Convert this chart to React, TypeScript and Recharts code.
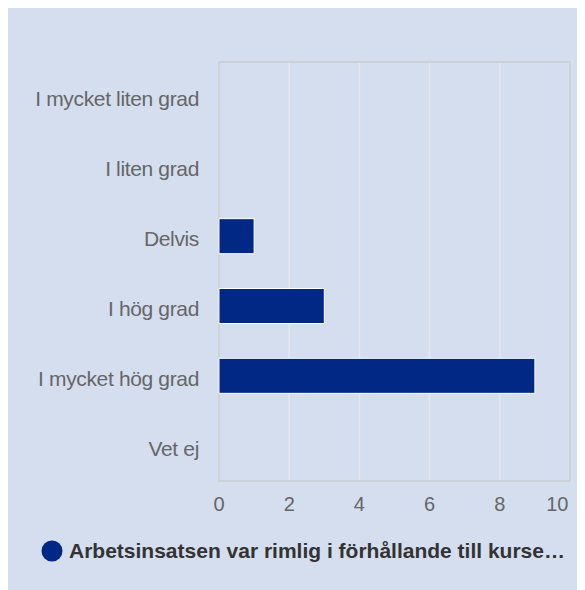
import { BarChart, Bar, XAxis, YAxis, CartesianGrid, Legend, ReferenceArea } from 'recharts';

const categories = ['I mycket liten grad', 'I liten grad', 'Delvis', 'I hög grad', 'I mycket hög grad', 'Vet ej'];
const answers = [0, 0, 1, 3, 9, 0];
const xTicks = [0, 2, 4, 6, 8, 10];
const seriesName = 'Arbetsinsatsen var rimlig i förhållande till kursens omfattning';
// legend shows the name shortened, as in the original export
const legendLabel = seriesName.slice(0, 50) + '…';

const data = categories.map((c, i) => ({ category: c, value: answers[i] }));

const FONT = '"Liberation Sans", Arial, sans-serif';

const YTick = ({ x, y, payload }: any) => (
  <text x={x} y={y + 2} dy="0.355em" textAnchor="end" fill="#666" fontSize={21} letterSpacing={-0.35} fontFamily={FONT}>
    {payload.value}
  </text>
);

const XTick = ({ x, y, payload }: any) => {
  const last = payload.value === xTicks[xTicks.length - 1];
  return (
    <text x={last ? x - 1.5 : x} y={y} dy="0.71em" textAnchor={last ? 'end' : 'middle'} fill="#666" fontSize={20} fontFamily={FONT}>
      {payload.value}
    </text>
  );
};

const renderLegend = () => (
  <div style={{ display: 'flex', alignItems: 'center', fontFamily: FONT }}>
    <svg width={22} height={22} style={{ flex: 'none' }}>
      <circle cx={11} cy={11} r={10.5} fill="#002884" />
    </svg>
    <span
      style={{
        marginLeft: 6,
        fontSize: 21,
        lineHeight: '22px',
        fontWeight: 'bold',
        color: '#333',
        whiteSpace: 'nowrap',
      }}
    >
      {legendLabel}
    </span>
  </div>
);

export default function App() {
  return (
    <div style={{ width: 577, height: 582, background: '#d4deef' }}>
      <BarChart
        width={577}
        height={582}
        data={data}
        layout="vertical"
        margin={{ top: 54, right: 15, left: 0, bottom: 79 }}
      >
        <CartesianGrid horizontal={false} stroke="#e4e7ec" strokeWidth={1.5} />
        <XAxis
          type="number"
          domain={[0, 10]}
          ticks={xTicks}
          axisLine={false}
          tickLine={false}
          tickSize={0}
          tickMargin={16}
          height={30}
          tick={<XTick />}
        />
        <YAxis
          type="category"
          dataKey="category"
          width={211}
          axisLine={false}
          tickLine={false}
          tickSize={0}
          tickMargin={20}
          interval={0}
          tick={<YTick />}
        />
        <ReferenceArea x1={0} x2={10} stroke="#c9cbcf" strokeWidth={1.5} fill="none" fillOpacity={0} />
        <Bar dataKey="value" name={seriesName} fill="#002884" stroke="#ffffff" strokeWidth={1} barSize={35} isAnimationActive={false} />
        <Legend
          verticalAlign="middle"
          content={renderLegend}
          wrapperStyle={{ top: 532, left: 33, width: 540, height: 22 }}
        />
      </BarChart>
    </div>
  );
}
